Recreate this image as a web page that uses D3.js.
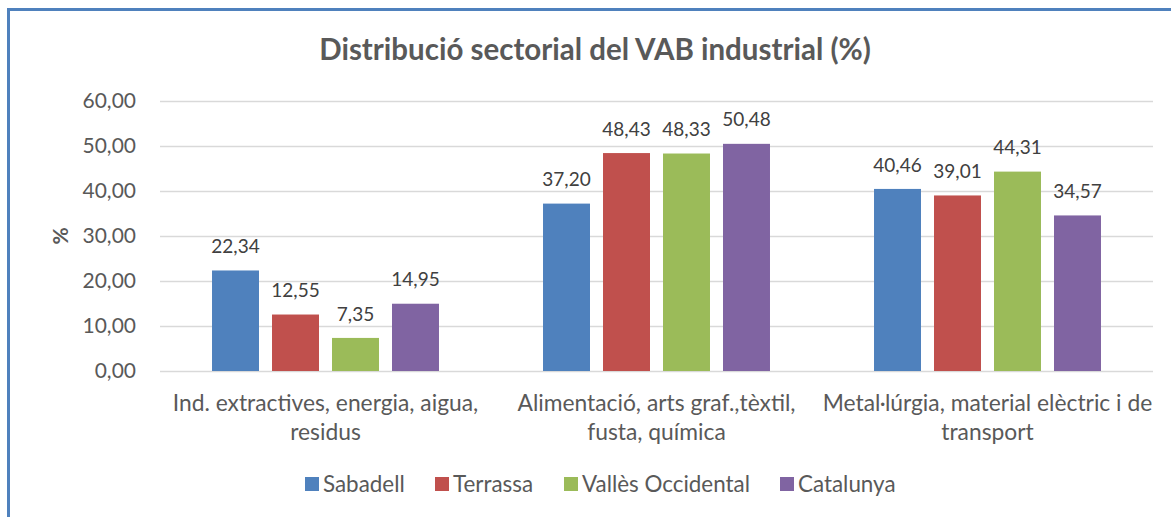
<!DOCTYPE html>
<html>
<head>
<meta charset="utf-8">
<script src="https://cdn.jsdelivr.net/npm/d3@7"></script>
<style>
body { margin:0; background:#fff; }
text { font-family: Lato, "Open Sans", sans-serif; fill:#595959; }
</style>
</head>
<body>
<div id="chart"></div>
<script>
(function(){

var width = 1171,
	height = 517;

// data

var categories = [
	["Ind. extractives, energia, aigua,", "residus"],
	["Alimentació, arts graf.,tèxtil,", "fusta, química"],
	["Metal·lúrgia, material elèctric i de", "transport"]
];

var series = ["Sabadell", "Terrassa", "Vallès Occidental", "Catalunya"];
var colors = ["#4F81BD", "#C0504D", "#9BBB59", "#8064A2"];

var sabadell = [22.34, 37.20, 40.46],
	terrassa = [12.55, 48.43, 39.01],
	valles = [7.35, 48.33, 44.31],
	catalunya = [14.95, 50.48, 34.57];

var values = [sabadell, terrassa, valles, catalunya];

var yTicks = [0, 10, 20, 30, 40, 50, 60];

var title = "Distribució sectorial del VAB industrial (%)";

// layout

var plot = {left:160, right:1153, top:101, bottom:371};

var fmt = function(v){ return d3.format(".2f")(v).replace(".", ","); };

var svg = d3.select("#chart").append("svg")
	.attr("width", width)
	.attr("height", height);

// frame (only top and left visible in the original)
svg.append("rect")
	.attr("x", 8.5).attr("y", 9.5)
	.attr("width", width + 20).attr("height", height + 20)
	.style("fill", "none")
	.style("stroke", "#4F81BD")
	.style("stroke-width", 3);

var X0 = d3.scaleBand().domain(d3.range(categories.length)).range([plot.left, plot.right]);
var X1 = d3.scaleBand().domain(d3.range(series.length)).range([0, X0.bandwidth()])
	.paddingInner(0.217).paddingOuter(0.867);
var Y = d3.scaleLinear().domain([0, 60]).range([plot.bottom, plot.top]);

// gridlines
svg.selectAll(".grid").data(yTicks).enter().append("line")
	.attr("x1", plot.left).attr("x2", plot.right)
	.attr("y1", function(d){ return Y(d) + 0.5; })
	.attr("y2", function(d){ return Y(d) + 0.5; })
	.style("stroke", "#D9D9D9")
	.style("stroke-width", 1.5);

// y tick labels
svg.selectAll(".ytick").data(yTicks).enter().append("text")
	.attr("x", 136)
	.attr("y", function(d){ return Y(d); })
	.attr("dy", "0.35em")
	.attr("text-anchor", "end")
	.style("font-size", "21px")
	.text(fmt);

// y axis title
svg.append("text")
	.attr("transform", "translate(61,236) rotate(-90)")
	.attr("text-anchor", "middle")
	.attr("dy", "0.35em")
	.style("font-size", "21px")
	.style("font-weight", "bold")
	.text("%");

// bars
var groups = svg.selectAll(".group").data(categories).enter().append("g")
	.attr("transform", function(d, i){ return "translate(" + X0(i) + ",0)"; });

series.forEach(function(s, j){
	groups.append("rect")
		.attr("x", X1(j))
		.attr("width", X1.bandwidth())
		.attr("y", function(d, i){ return Y(values[j][i]); })
		.attr("height", function(d, i){ return Y(0) - Y(values[j][i]); })
		.style("fill", colors[j]);

	groups.append("text")
		.attr("x", X1(j) + X1.bandwidth() / 2)
		.attr("y", function(d, i){ return Y(values[j][i]) - 24; })
		.attr("dy", "0.35em")
		.attr("text-anchor", "middle")
		.style("font-size", "19px")
		.style("fill", "#404040")
		.text(function(d, i){ return fmt(values[j][i]); });
});

// category labels
groups.each(function(lines){
	var g = d3.select(this);
	lines.forEach(function(l, k){
		g.append("text")
			.attr("x", X0.bandwidth() / 2)
			.attr("y", 403 + k * 29)
			.attr("dy", "0.35em")
			.attr("text-anchor", "middle")
			.style("font-size", "22.8px")
			.text(l);
	});
});

// title
svg.append("text")
	.attr("x", 595)
	.attr("y", 50)
	.attr("dy", "0.35em")
	.attr("text-anchor", "middle")
	.style("font-size", "29.5px")
	.style("font-weight", "bold")
	.text(title);

// legend
var legendX = [305, 435, 564, 780];
var lg = svg.selectAll(".legend").data(series).enter().append("g")
	.attr("transform", function(d, i){ return "translate(" + legendX[i] + ",484)"; });

lg.append("rect")
	.attr("x", 0).attr("y", -7)
	.attr("width", 14).attr("height", 14)
	.style("fill", function(d, i){ return colors[i]; });

lg.append("text")
	.attr("x", 18)
	.attr("dy", "0.35em")
	.style("font-size", "22.4px")
	.text(function(d){ return d; });

})()
</script>
</body>
</html>
